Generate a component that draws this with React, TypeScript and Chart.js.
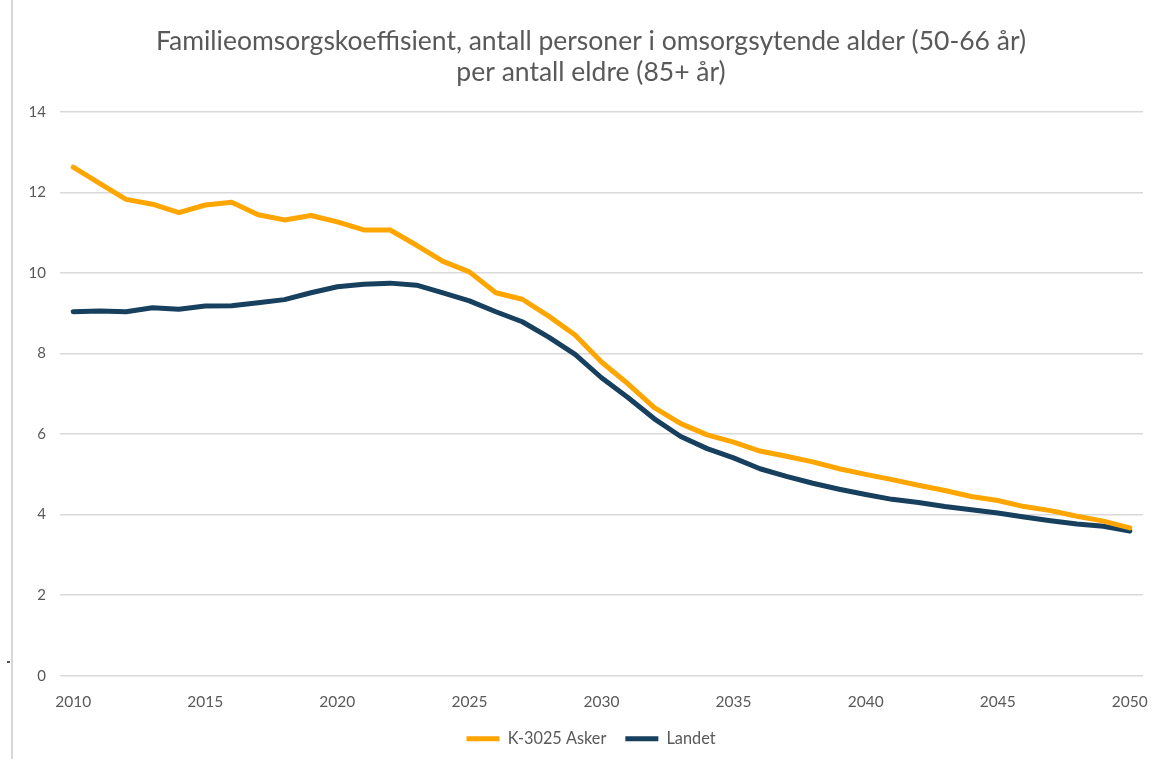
import React, { useEffect, useRef } from "react";
import { Chart, registerables } from "chart.js";

Chart.register(...registerables);

const years = [
  2010, 2011, 2012, 2013, 2014, 2015, 2016, 2017, 2018, 2019,
  2020, 2021, 2022, 2023, 2024, 2025, 2026, 2027, 2028, 2029,
  2030, 2031, 2032, 2033, 2034, 2035, 2036, 2037, 2038, 2039,
  2040, 2041, 2042, 2043, 2044, 2045, 2046, 2047, 2048, 2049, 2050,
];

const askerValues = [
  12.63, 12.23, 11.83, 11.71, 11.5, 11.69, 11.76, 11.45, 11.32, 11.43,
  11.27, 11.07, 11.07, 10.69, 10.29, 10.03, 9.51, 9.35, 8.93, 8.46,
  7.79, 7.25, 6.66, 6.26, 5.98, 5.8, 5.58, 5.45, 5.31, 5.14,
  5.0, 4.87, 4.73, 4.6, 4.45, 4.35, 4.2, 4.1, 3.96, 3.84, 3.67,
];

const landetValues = [
  9.04, 9.06, 9.04, 9.14, 9.1, 9.18, 9.19, 9.26, 9.34, 9.51,
  9.66, 9.72, 9.75, 9.7, 9.51, 9.31, 9.04, 8.79, 8.41, 7.98,
  7.4, 6.91, 6.38, 5.94, 5.64, 5.41, 5.14, 4.95, 4.78, 4.63,
  4.5, 4.38, 4.3, 4.2, 4.12, 4.04, 3.94, 3.85, 3.77, 3.71, 3.59,
];

const seriesNames = ["K-3025 Asker", "Landet"];
const titleLines = [
  "Familieomsorgskoeffisient, antall personer i omsorgsytende alder (50-66 år)",
  "per antall eldre (85+ år)",
];
const yMin = 0;
const yMax = 14;
const yStep = 2;
const xLabelEvery = 5;

const TEXT = "#595959";
const GRID = "#d9d9d9";
const FONT = "Lato, 'Open Sans', sans-serif";

export default function App() {
  const ref = useRef<HTMLCanvasElement | null>(null);

  useEffect(() => {
    if (!ref.current) return;
    const chart = new Chart(ref.current, {
      type: "line",
      data: {
        labels: years.map(String),
        datasets: [
          {
            label: seriesNames[0],
            data: askerValues,
            borderColor: "#FFA500",
            backgroundColor: "#FFA500",
            borderWidth: 5,
            pointRadius: 0,
            tension: 0,
            borderCapStyle: "round",
            borderJoinStyle: "round",
          },
          {
            label: seriesNames[1],
            data: landetValues,
            borderColor: "#17405E",
            backgroundColor: "#17405E",
            borderWidth: 5,
            pointRadius: 0,
            tension: 0,
            borderCapStyle: "round",
            borderJoinStyle: "round",
          },
        ],
      },
      options: {
        responsive: false,
        animation: false,
        layout: { padding: { left: 27, right: 0, top: 0, bottom: 2 } },
        plugins: {
          title: {
            display: true,
            text: titleLines,
            color: TEXT,
            font: { family: FONT, size: 26.5, weight: "normal", lineHeight: 1.17 },
            padding: { top: 26, bottom: 24 },
          },
          legend: {
            position: "bottom",
            labels: {
              color: TEXT,
              font: { family: FONT, size: 16.3 },
              usePointStyle: true,
              pointStyle: "line",
              pointStyleWidth: 33,
              boxHeight: 16,
              padding: 19,
            },
          },
          tooltip: { enabled: false },
        },
        scales: {
          x: {
            offset: true,
            grid: { display: false, drawTicks: false },
            border: { display: false },
            ticks: {
              color: TEXT,
              font: { family: FONT, size: 15.5 },
              autoSkip: false,
              maxRotation: 0,
              padding: 17,
              callback: (_v: any, i: number) =>
                years[i] % xLabelEvery === 0 ? String(years[i]) : "",
            },
            afterFit: (scale: any) => {
              scale.height = 36;
              scale.paddingLeft = 0;
              scale.paddingRight = 0;
            },
          },
          y: {
            min: yMin,
            max: yMax,
            grid: { color: GRID, lineWidth: 1.5, drawTicks: false },
            border: { display: false },
            ticks: {
              stepSize: yStep,
              color: TEXT,
              font: { family: FONT, size: 15 },
              padding: 14,
            },
            afterFit: (scale: any) => {
              scale.width = 33;
            },
          },
          yRight: {
            position: "right",
            min: yMin,
            max: yMax,
            grid: { display: false, drawTicks: false },
            border: { display: false },
            ticks: { display: false },
            afterFit: (scale: any) => {
              scale.width = 12;
            },
          },
        },
      },
    });
    return () => chart.destroy();
  }, []);

  return (
    <div
      style={{
        position: "fixed",
        left: 0,
        top: 0,
        width: 1154,
        height: 759,
        background: "#ffffff",
        overflow: "hidden",
      }}
    >
      <canvas ref={ref} width={1155} height={759} style={{ position: "absolute", left: 0, top: 0 }} />
      <div style={{ position: "absolute", left: 11, top: 0, width: 2, height: 759, background: "#d6d6d6" }} />
      <div style={{ position: "absolute", left: 7, top: 661, width: 3, height: 1.5, background: "#555555" }} />
    </div>
  );
}
